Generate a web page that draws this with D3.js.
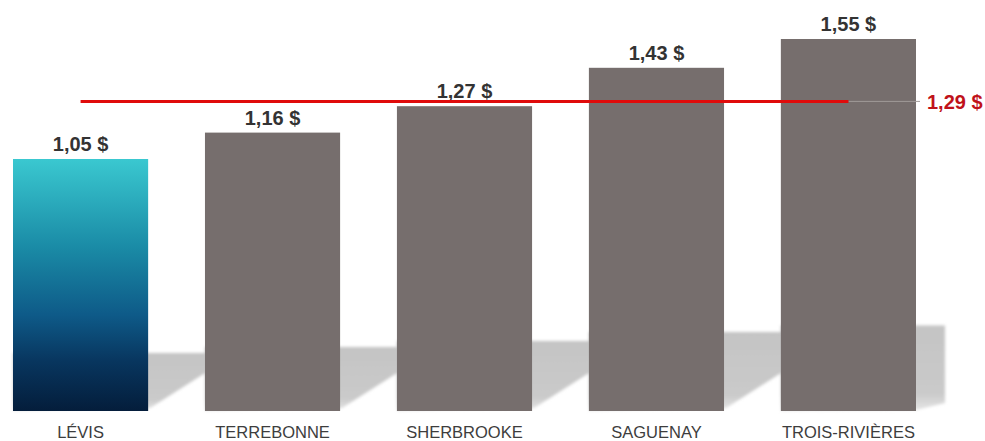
<!DOCTYPE html>
<html>
<head>
<meta charset="utf-8">
<script src="https://cdn.jsdelivr.net/npm/d3@7"></script>
<style>
  body { margin: 0; background: #fff; }
  text { font-family: "Liberation Sans", Arial, sans-serif; }
</style>
</head>
<body>
<div id="chart"></div>
<script>
// Data
// ==============================
var cities = ["LÉVIS", "TERREBONNE", "SHERBROOKE", "SAGUENAY", "TROIS-RIVIÈRES"];
var values = [1.05, 1.16, 1.27, 1.43, 1.55];
var average = 1.29;
var highlight = "LÉVIS";

var fmt = function(v) { return v.toFixed(2).replace(".", ",") + " $"; };

// Set chart parameters
// ==============================
var svgWidth = 985;
var svgHeight = 441;
var baseY = 411;

var svg = d3.select("#chart")
  .append("svg")
  .attr("width", svgWidth)
  .attr("height", svgHeight);

var defs = svg.append("defs");

var grad = defs.append("linearGradient")
  .attr("id", "levisGrad")
  .attr("x1", 0).attr("y1", 0).attr("x2", 0).attr("y2", 1);
grad.append("stop").attr("offset", "0%").attr("stop-color", "#3ac8d0");
grad.append("stop").attr("offset", "35%").attr("stop-color", "#1a8ba6");
grad.append("stop").attr("offset", "62%").attr("stop-color", "#0e5a88");
grad.append("stop").attr("offset", "80%").attr("stop-color", "#08365f");
grad.append("stop").attr("offset", "100%").attr("stop-color", "#041d3b");

var shadowGrad = defs.append("linearGradient")
  .attr("id", "shadowGrad")
  .attr("x1", 0).attr("y1", 0).attr("x2", 0).attr("y2", 1);
shadowGrad.append("stop").attr("offset", "0%").attr("stop-color", "#c4c4c4");
shadowGrad.append("stop").attr("offset", "80%").attr("stop-color", "#cacaca");
shadowGrad.append("stop").attr("offset", "100%").attr("stop-color", "#e6e6e6");

defs.append("filter")
  .attr("id", "blur")
  .attr("x", "-10%").attr("y", "-10%").attr("width", "120%").attr("height", "120%")
  .append("feGaussianBlur")
  .attr("stdDeviation", 1.8);

// Scales
// ==============================
var xScale = d3.scaleBand()
  .domain(cities)
  .range([13, 916])
  .paddingInner(0.296)
  .paddingOuter(0);

var yScale = d3.scaleLinear()
  .domain([0, 1.6])
  .range([baseY, baseY - 1.6 * 240]);

// Floor shadows
// ==============================
var shadowGroup = svg.append("g").attr("filter", "url(#blur)");
cities.forEach(function(c, i) {
  var x0 = xScale(c);
  var x1 = x0 + xScale.bandwidth();
  var top = baseY - 0.23 * (baseY - yScale(values[i]));
  var pts;
  if (i === cities.length - 1) {
    pts = [[x0, baseY], [x1, baseY - 1], [x1 + 29, baseY - 8],
           [x1 + 29, top], [x0, top]];
  } else {
    pts = [[x0, baseY], [x1 + 2, baseY - 3], [x1 + 57, baseY - 38],
           [x1 + 57, top], [x0, top]];
  }
  shadowGroup.append("polygon")
    .attr("points", pts.map(function(p) { return p.join(","); }).join(" "))
    .attr("fill", "url(#shadowGrad)");
});

// Bars
// ==============================
svg.selectAll("rect.bar")
  .data(values)
  .enter()
  .append("rect")
  .attr("class", "bar")
  .attr("x", function(d, i) { return xScale(cities[i]); })
  .attr("y", function(d) { return yScale(d); })
  .attr("width", xScale.bandwidth())
  .attr("height", function(d) { return baseY - yScale(d); })
  .attr("fill", function(d, i) { return cities[i] === highlight ? "url(#levisGrad)" : "#766e6d"; });

// Value labels
// ==============================
svg.selectAll("text.val")
  .data(values)
  .enter()
  .append("text")
  .attr("class", "val")
  .attr("x", function(d, i) { return xScale(cities[i]) + xScale.bandwidth() / 2; })
  .attr("y", function(d) { return yScale(d) - 8; })
  .attr("text-anchor", "middle")
  .attr("font-size", "20px")
  .attr("font-weight", "bold")
  .attr("fill", "#333333")
  .text(fmt);

// Category labels
// ==============================
svg.selectAll("text.cat")
  .data(cities)
  .enter()
  .append("text")
  .attr("class", "cat")
  .attr("x", function(d) { return xScale(d) + xScale.bandwidth() / 2; })
  .attr("y", 438)
  .attr("text-anchor", "middle")
  .attr("font-size", "16.5px")
  .attr("fill", "#3d3d3d")
  .text(function(d) { return d; });

// Average line
// ==============================
var first = cities[0], last = cities[cities.length - 1];
var xa = xScale(first) + xScale.bandwidth() / 2;
var xb = xScale(last) + xScale.bandwidth() / 2;
var xe = xScale(last) + xScale.bandwidth();
var ya = yScale(average);

svg.append("line")
  .attr("x1", xb).attr("x2", xe + 4)
  .attr("y1", ya).attr("y2", ya)
  .attr("stroke", "#a09a99")
  .attr("stroke-width", 1);

svg.append("line")
  .attr("x1", xa).attr("x2", xb)
  .attr("y1", ya).attr("y2", ya)
  .attr("stroke", "#e00b0b")
  .attr("stroke-width", 3);

svg.append("text")
  .attr("x", xe + 11)
  .attr("y", ya + 8)
  .attr("font-size", "20px")
  .attr("font-weight", "bold")
  .attr("fill", "#c0121a")
  .text(fmt(average));
</script>
</body>
</html>
